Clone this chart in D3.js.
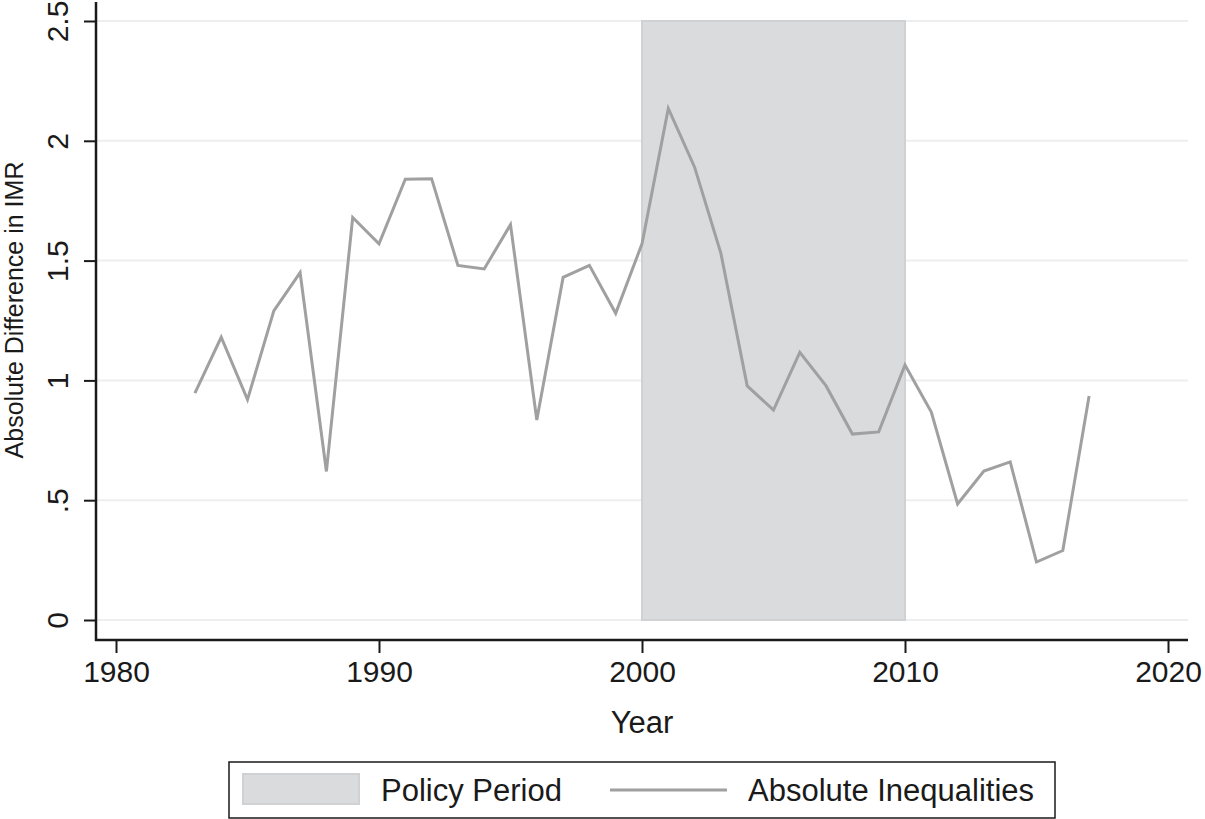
<!DOCTYPE html>
<html><head><meta charset="utf-8">
<script src="https://cdn.jsdelivr.net/npm/d3@7"></script>
<style>body{margin:0;background:#fff}svg{display:block}text{font-family:"Liberation Sans",Arial,sans-serif;fill:#1a1a1a}</style>
</head><body><svg id="c" width="1205" height="819"></svg>
<script>
const years = [1983,1984,1985,1986,1987,1988,1989,1990,1991,1992,1993,1994,1995,1996,1997,1998,1999,2000,2001,2002,2003,2004,2005,2006,2007,2008,2009,2010,2011,2012,2013,2014,2015,2016,2017];
const absIneq = [0.947,1.18,0.92,1.29,1.45,0.62,1.68,1.57,1.84,1.842,1.48,1.465,1.65,0.835,1.43,1.48,1.28,1.57,2.135,1.89,1.53,0.977,0.876,1.117,0.977,0.776,0.785,1.064,0.868,0.484,0.622,0.66,0.242,0.29,0.935];
const policyPeriod = [2000, 2010];
const xTicks = [1980,1990,2000,2010,2020];
const yTicks = [0,0.5,1,1.5,2,2.5];
const yTickLabels = ["0",".5","1","1.5","2","2.5"];

const svg = d3.select("#c");
const x = d3.scaleLinear().domain([1980,2020]).range([116,1168]);
const y = d3.scaleLinear().domain([0,2.5]).range([620,21]);
const pLeft = 96, pRight = 1188, pTop = 2, pBottom = 640;

// gridlines
svg.append("g").selectAll("line").data(yTicks).join("line")
  .attr("x1",pLeft).attr("x2",pRight).attr("y1",d=>y(d)).attr("y2",d=>y(d))
  .attr("stroke","#eeeeee").attr("stroke-width",2);

// policy period
svg.append("rect").attr("x",x(policyPeriod[0])).attr("y",y(2.5))
  .attr("width",x(policyPeriod[1])-x(policyPeriod[0])).attr("height",y(0)-y(2.5))
  .attr("fill","#dadbdd").attr("stroke","#d0d1d3").attr("stroke-width",2);

// line
svg.append("path").datum(years.map((yr,i)=>[yr,absIneq[i]]))
  .attr("fill","none").attr("stroke","#a0a0a0").attr("stroke-width",3).attr("stroke-linejoin","miter")
  .attr("d", d3.line().x(d=>x(d[0])).y(d=>y(d[1])));

// axes
const xAxis = d3.axisBottom(x).tickValues(xTicks).tickFormat(d3.format("d")).tickSize(13).tickPadding(8).tickSizeOuter(0);
const gx = svg.append("g").attr("transform",`translate(0,${pBottom})`).call(xAxis);
gx.select(".domain").remove();
gx.selectAll(".tick line").attr("stroke","#1a1a1a").attr("stroke-width",2);
gx.selectAll(".tick text").attr("font-size",30).attr("fill","#1a1a1a").attr("font-family","Liberation Sans, Arial, sans-serif");

const yAxis = d3.axisLeft(y).tickValues(yTicks).tickFormat((d,i)=>yTickLabels[i]).tickSize(12).tickSizeOuter(0);
const gy = svg.append("g").attr("transform",`translate(${pLeft},0)`).call(yAxis);
gy.select(".domain").remove();
gy.selectAll(".tick line").attr("stroke","#1a1a1a").attr("stroke-width",2);
gy.selectAll(".tick text").attr("font-size",30).attr("fill","#1a1a1a").attr("font-family","Liberation Sans, Arial, sans-serif")
  .attr("x",null).attr("dy",null).attr("text-anchor","middle")
  .attr("transform","translate(-28,0) rotate(-90)");

svg.append("line").attr("x1",pLeft).attr("x2",pLeft).attr("y1",pTop).attr("y2",pBottom+1).attr("stroke","#1a1a1a").attr("stroke-width",2.5);
svg.append("line").attr("x1",pLeft-1).attr("x2",pRight).attr("y1",pBottom).attr("y2",pBottom).attr("stroke","#1a1a1a").attr("stroke-width",2.5);

// titles
svg.append("text").attr("x",(pLeft+pRight)/2).attr("y",733).attr("text-anchor","middle").attr("font-size",31).text("Year");
svg.append("text").attr("transform","translate(23,310) rotate(-90)").attr("text-anchor","middle").attr("font-size",25).text("Absolute Difference in IMR");

// legend
const lg = svg.append("g");
lg.append("rect").attr("x",229).attr("y",762).attr("width",826).attr("height",56).attr("fill","#fff").attr("stroke","#1a1a1a").attr("stroke-width",1.5);
lg.append("rect").attr("x",243).attr("y",774).attr("width",116).attr("height",30).attr("fill","#dadbdd").attr("stroke","#d0d1d3").attr("stroke-width",2);
lg.append("text").attr("x",381).attr("y",801).attr("font-size",31).text("Policy Period");
lg.append("line").attr("x1",610).attr("x2",727).attr("y1",790).attr("y2",790).attr("stroke","#a0a0a0").attr("stroke-width",3);
lg.append("text").attr("x",748).attr("y",801).attr("font-size",31).text("Absolute Inequalities");
</script></body></html>
